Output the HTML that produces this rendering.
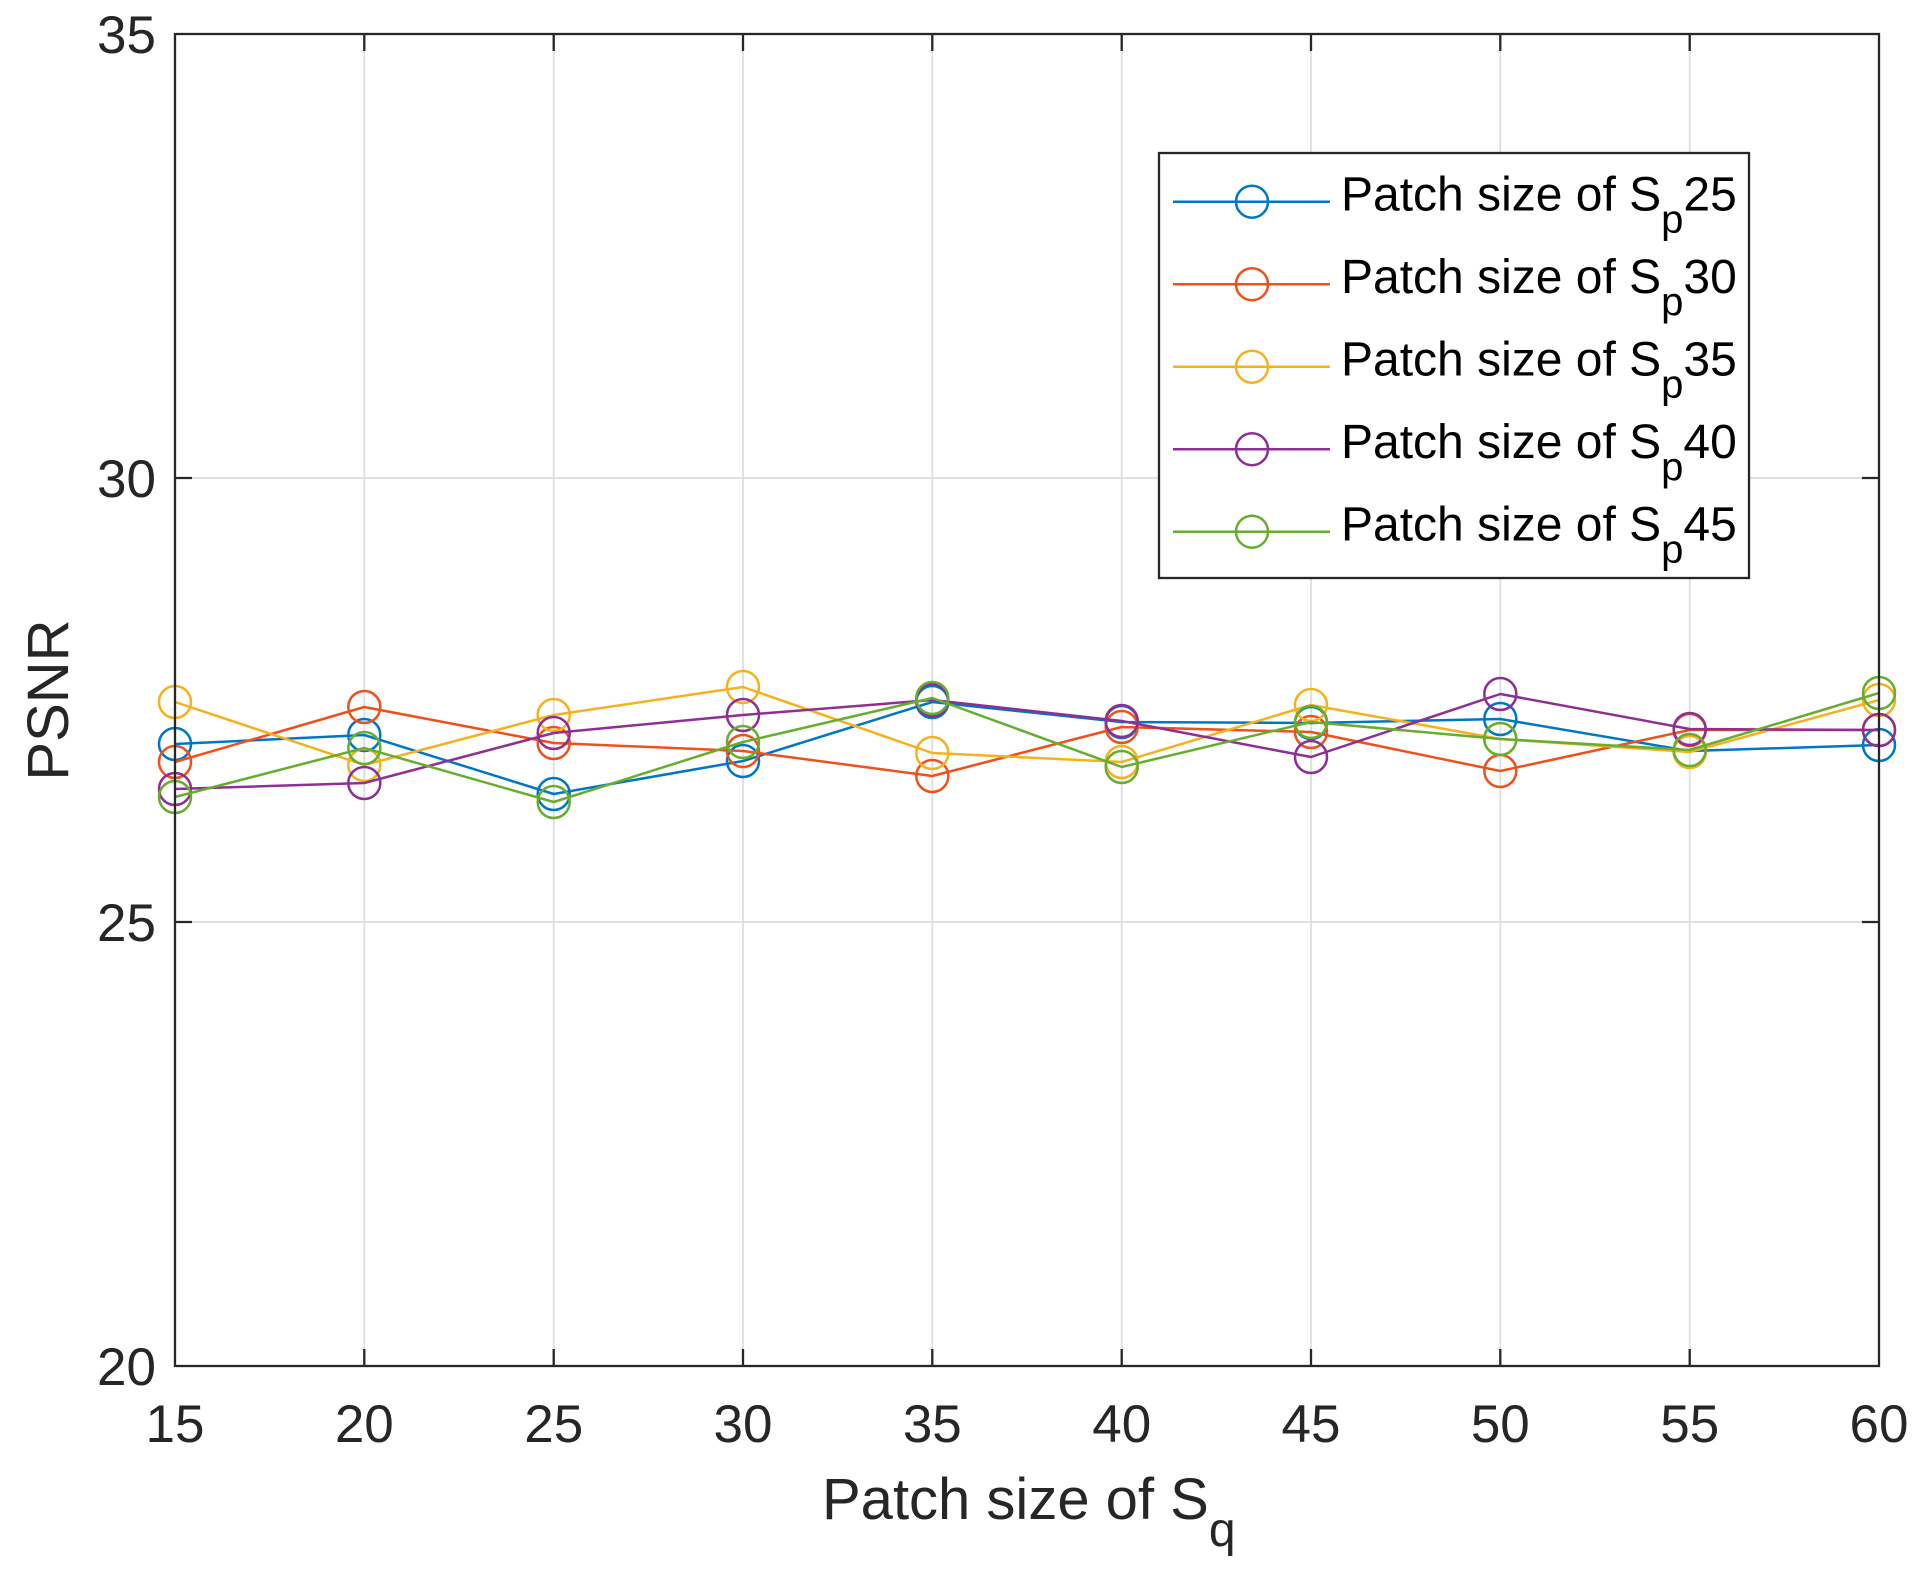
<!DOCTYPE html>
<html>
<head>
<meta charset="utf-8">
<style>
  html, body { margin: 0; padding: 0; background: #ffffff; }
  svg { display: block; }
  text { font-family: "Liberation Sans", Arial, sans-serif; }
</style>
</head>
<body>
<svg width="1920" height="1574" viewBox="0 0 1920 1574" xmlns="http://www.w3.org/2000/svg">
  <rect x="0" y="0" width="1920" height="1574" fill="#ffffff"/>

  <!-- grid lines -->
  <g stroke="#dcdcdc" stroke-width="1.7" fill="none">
    <line x1="364.3" y1="34" x2="364.3" y2="1366"/>
    <line x1="553.7" y1="34" x2="553.7" y2="1366"/>
    <line x1="743" y1="34" x2="743" y2="1366"/>
    <line x1="932.3" y1="34" x2="932.3" y2="1366"/>
    <line x1="1121.7" y1="34" x2="1121.7" y2="1366"/>
    <line x1="1311" y1="34" x2="1311" y2="1366"/>
    <line x1="1500.3" y1="34" x2="1500.3" y2="1366"/>
    <line x1="1689.7" y1="34" x2="1689.7" y2="1366"/>
    <line x1="175" y1="478" x2="1879" y2="478"/>
    <line x1="175" y1="922" x2="1879" y2="922"/>
  </g>

  <!-- data series -->
  <g fill="none" stroke-width="2.5" stroke-linejoin="round">
    <!-- Sp25 blue -->
    <g stroke="#0077C6">
      <polyline points="175,744 364.3,735 553.7,794 743,761 932.3,702 1121.7,722 1311,723 1500.3,719 1689.7,751 1879,745"/>
      <circle cx="175" cy="744" r="16"/><circle cx="364.3" cy="735" r="16"/><circle cx="553.7" cy="794" r="16"/>
      <circle cx="743" cy="761" r="16"/><circle cx="932.3" cy="702" r="16"/><circle cx="1121.7" cy="722" r="16"/>
      <circle cx="1311" cy="723" r="16"/><circle cx="1500.3" cy="719" r="16"/><circle cx="1689.7" cy="751" r="16"/>
      <circle cx="1879" cy="745" r="16"/>
    </g>
    <!-- Sp30 red -->
    <g stroke="#F0501A">
      <polyline points="175,762 364.3,707 553.7,743 743,751 932.3,776 1121.7,727 1311,732 1500.3,771 1689.7,730 1879,730"/>
      <circle cx="175" cy="762" r="16"/><circle cx="364.3" cy="707" r="16"/><circle cx="553.7" cy="743" r="16"/>
      <circle cx="743" cy="751" r="16"/><circle cx="932.3" cy="776" r="16"/><circle cx="1121.7" cy="727" r="16"/>
      <circle cx="1311" cy="732" r="16"/><circle cx="1500.3" cy="771" r="16"/><circle cx="1689.7" cy="730" r="16"/>
      <circle cx="1879" cy="730" r="16"/>
    </g>
    <!-- Sp35 yellow -->
    <g stroke="#F6B120">
      <polyline points="175,702 364.3,765 553.7,715 743,687 932.3,753 1121.7,762 1311,705 1500.3,739 1689.7,752 1879,700"/>
      <circle cx="175" cy="702" r="16"/><circle cx="364.3" cy="765" r="16"/><circle cx="553.7" cy="715" r="16"/>
      <circle cx="743" cy="687" r="16"/><circle cx="932.3" cy="753" r="16"/><circle cx="1121.7" cy="762" r="16"/>
      <circle cx="1311" cy="705" r="16"/><circle cx="1500.3" cy="739" r="16"/><circle cx="1689.7" cy="752" r="16"/>
      <circle cx="1879" cy="700" r="16"/>
    </g>
    <!-- Sp40 purple -->
    <g stroke="#8E2F95">
      <polyline points="175,789 364.3,783 553.7,733 743,715 932.3,700 1121.7,721 1311,757 1500.3,694 1689.7,729 1879,730"/>
      <circle cx="175" cy="789" r="16"/><circle cx="364.3" cy="783" r="16"/><circle cx="553.7" cy="733" r="16"/>
      <circle cx="743" cy="715" r="16"/><circle cx="932.3" cy="700" r="16"/><circle cx="1121.7" cy="721" r="16"/>
      <circle cx="1311" cy="757" r="16"/><circle cx="1500.3" cy="694" r="16"/><circle cx="1689.7" cy="729" r="16"/>
      <circle cx="1879" cy="730" r="16"/>
    </g>
    <!-- Sp45 green -->
    <g stroke="#67AE2E">
      <polyline points="175,797 364.3,748 553.7,802 743,742 932.3,698 1121.7,767 1311,722 1500.3,739 1689.7,750 1879,693"/>
      <circle cx="175" cy="797" r="16"/><circle cx="364.3" cy="748" r="16"/><circle cx="553.7" cy="802" r="16"/>
      <circle cx="743" cy="742" r="16"/><circle cx="932.3" cy="698" r="16"/><circle cx="1121.7" cy="767" r="16"/>
      <circle cx="1311" cy="722" r="16"/><circle cx="1500.3" cy="739" r="16"/><circle cx="1689.7" cy="750" r="16"/>
      <circle cx="1879" cy="693" r="16"/>
    </g>
  </g>

  <!-- axes box -->
  <rect x="175" y="34" width="1704" height="1332" fill="none" stroke="#262626" stroke-width="2.3"/>

  <!-- ticks -->
  <g stroke="#262626" stroke-width="2.3">
    <line x1="364.3" y1="1366" x2="364.3" y2="1349"/>
    <line x1="553.7" y1="1366" x2="553.7" y2="1349"/>
    <line x1="743" y1="1366" x2="743" y2="1349"/>
    <line x1="932.3" y1="1366" x2="932.3" y2="1349"/>
    <line x1="1121.7" y1="1366" x2="1121.7" y2="1349"/>
    <line x1="1311" y1="1366" x2="1311" y2="1349"/>
    <line x1="1500.3" y1="1366" x2="1500.3" y2="1349"/>
    <line x1="1689.7" y1="1366" x2="1689.7" y2="1349"/>
    <line x1="364.3" y1="34" x2="364.3" y2="51"/>
    <line x1="553.7" y1="34" x2="553.7" y2="51"/>
    <line x1="743" y1="34" x2="743" y2="51"/>
    <line x1="932.3" y1="34" x2="932.3" y2="51"/>
    <line x1="1121.7" y1="34" x2="1121.7" y2="51"/>
    <line x1="1311" y1="34" x2="1311" y2="51"/>
    <line x1="1500.3" y1="34" x2="1500.3" y2="51"/>
    <line x1="1689.7" y1="34" x2="1689.7" y2="51"/>
    <line x1="175" y1="478" x2="192" y2="478"/>
    <line x1="175" y1="922" x2="192" y2="922"/>
    <line x1="1879" y1="478" x2="1862" y2="478"/>
    <line x1="1879" y1="922" x2="1862" y2="922"/>
  </g>

  <!-- tick labels -->
  <g fill="#262626" font-size="53">
    <text x="175" y="1442" text-anchor="middle">15</text>
    <text x="364.3" y="1442" text-anchor="middle">20</text>
    <text x="553.7" y="1442" text-anchor="middle">25</text>
    <text x="743" y="1442" text-anchor="middle">30</text>
    <text x="932.3" y="1442" text-anchor="middle">35</text>
    <text x="1121.7" y="1442" text-anchor="middle">40</text>
    <text x="1311" y="1442" text-anchor="middle">45</text>
    <text x="1500.3" y="1442" text-anchor="middle">50</text>
    <text x="1689.7" y="1442" text-anchor="middle">55</text>
    <text x="1879" y="1442" text-anchor="middle">60</text>

    <text x="156" y="53" text-anchor="end">35</text>
    <text x="156" y="497" text-anchor="end">30</text>
    <text x="156" y="941" text-anchor="end">25</text>
    <text x="156" y="1385" text-anchor="end">20</text>
  </g>

  <!-- axis labels -->
  <text x="822" y="1519" font-size="58" fill="#262626">Patch size of S<tspan font-size="48" dy="27">q</tspan></text>
  <text transform="translate(68,700) rotate(-90)" x="0" y="0" text-anchor="middle" font-size="58" fill="#262626">PSNR</text>

  <!-- legend -->
  <rect x="1159" y="153" width="590" height="425" fill="#ffffff" stroke="#262626" stroke-width="2.3"/>
  <g fill="none" stroke-width="2.5">
    <g stroke="#0077C6"><line x1="1173" y1="201.7" x2="1330" y2="201.7"/><circle cx="1252" cy="201.7" r="16"/></g>
    <g stroke="#F0501A"><line x1="1173" y1="284.2" x2="1330" y2="284.2"/><circle cx="1252" cy="284.2" r="16"/></g>
    <g stroke="#F6B120"><line x1="1173" y1="366.7" x2="1330" y2="366.7"/><circle cx="1252" cy="366.7" r="16"/></g>
    <g stroke="#8E2F95"><line x1="1173" y1="449.2" x2="1330" y2="449.2"/><circle cx="1252" cy="449.2" r="16"/></g>
    <g stroke="#67AE2E"><line x1="1173" y1="531.7" x2="1330" y2="531.7"/><circle cx="1252" cy="531.7" r="16"/></g>
  </g>
  <g fill="#000000" font-size="48">
    <text x="1341" y="210.5">Patch size of S<tspan font-size="40" dy="22">p</tspan><tspan dy="-22">25</tspan></text>
    <text x="1341" y="293">Patch size of S<tspan font-size="40" dy="22">p</tspan><tspan dy="-22">30</tspan></text>
    <text x="1341" y="375.5">Patch size of S<tspan font-size="40" dy="22">p</tspan><tspan dy="-22">35</tspan></text>
    <text x="1341" y="458">Patch size of S<tspan font-size="40" dy="22">p</tspan><tspan dy="-22">40</tspan></text>
    <text x="1341" y="540.5">Patch size of S<tspan font-size="40" dy="22">p</tspan><tspan dy="-22">45</tspan></text>
  </g>
</svg>
</body>
</html>
